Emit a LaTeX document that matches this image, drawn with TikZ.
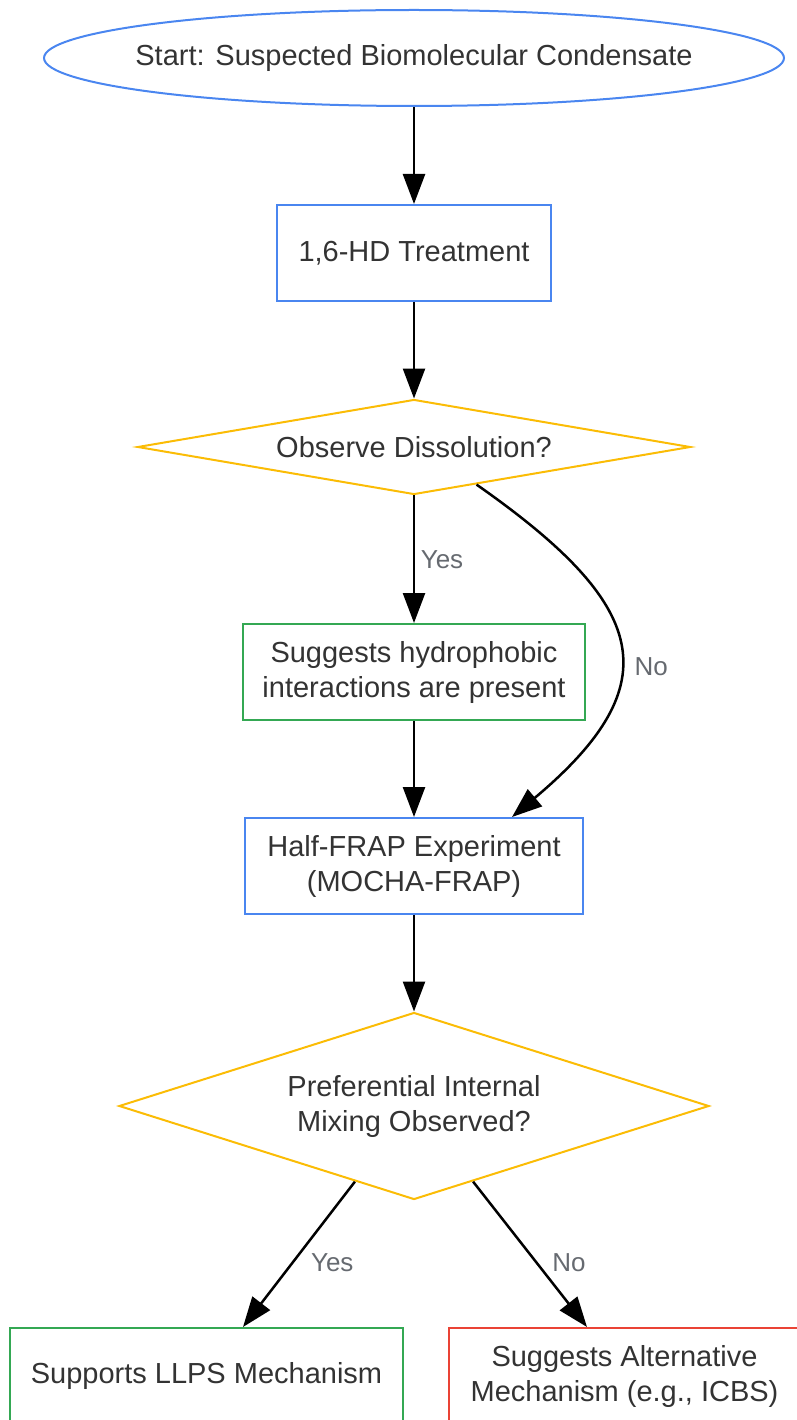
\documentclass[tikz,border=0pt]{standalone}
\usepackage{fontspec}
\setmainfont{Liberation Sans}
\usepackage{tikz}
\usetikzlibrary{shapes.geometric}
\usetikzlibrary{arrows.meta}
\definecolor{gblue}{HTML}{4A86F0}
\definecolor{gyellow}{HTML}{FBBC05}
\definecolor{ggreen}{HTML}{34A853}
\definecolor{gred}{HTML}{EA4335}
\definecolor{txt}{HTML}{333333}
\definecolor{lblgray}{HTML}{666A70}

\begin{document}
\begin{tikzpicture}[x=1pt,y=1pt,
    every node/.style={font=\fontsize{29}{35}\selectfont, text=txt},
    startnode/.style={ellipse, draw=gblue, line width=2pt, minimum height=96pt, inner xsep=-17pt, inner ysep=0pt},
    bluebox/.style={rectangle, draw=gblue, line width=2pt, minimum height=96pt, inner sep=0pt, align=center},
    greenbox/.style={rectangle, draw=ggreen, line width=2pt, minimum height=96pt, inner sep=0pt, align=center},
    redbox/.style={rectangle, draw=gred, line width=2pt, minimum height=96pt, inner sep=0pt, align=center},
    decision/.style={diamond, draw=gyellow, line width=2pt, inner sep=0pt, align=center},
    lbl/.style={font=\fontsize{26}{30}\selectfont, text=lblgray},
    arr/.style={-{Triangle[length=30pt,width=22pt]}, line width=2.5pt}]
        \useasboundingbox (0,0) rectangle (796,-1420);

        \node[startnode] (1) at (414,-58) {Start: Suspected Biomolecular Condensate};
        \node[bluebox, minimum width=274pt] (2) at (414,-253) {1,6-HD Treatment};
        \node[decision, aspect=5.8, minimum width=553pt, minimum height=95pt] (3) at (414,-447) {Observe Dissolution?};
        \node[greenbox, minimum width=342pt] (4) at (414,-672) {Suggests hydrophobic\\interactions are present};
        \node[bluebox, minimum width=338pt] (5) at (414,-866) {Half-FRAP Experiment\\(MOCHA-FRAP)};
        \node[decision, aspect=3.15, minimum width=590pt, minimum height=187pt] (6) at (414,-1106) {Preferential Internal\\Mixing Observed?};
        \node[greenbox, minimum width=393pt] (7) at (206.5,-1376) {Supports LLPS Mechanism};
        \node[redbox, minimum width=351pt] (8) at (624.5,-1376) {Suggests Alternative\\Mechanism (e.g., ICBS)};

        \path[draw, every edge/.append style={arr}]
            (1) edge (2)
            (2) edge (3)
            (3) edge node[lbl,xshift=28pt]{Yes} (4)
            (4) edge (5)
            (3.-31) edge[out=-35,in=40,looseness=1.6] node[lbl,pos=.57,xshift=32pt]{No} ([xshift=98pt]5.north)
            (5) edge (6)
            (6.-128) edge node[lbl,pos=.56,xshift=40pt]{Yes} ([xshift=36.5pt]7.north)
            (6.-52) edge node[lbl,pos=.56,xshift=32pt]{No} ([xshift=-37.5pt]8.north)
        ;
    \end{tikzpicture}
\end{document}
